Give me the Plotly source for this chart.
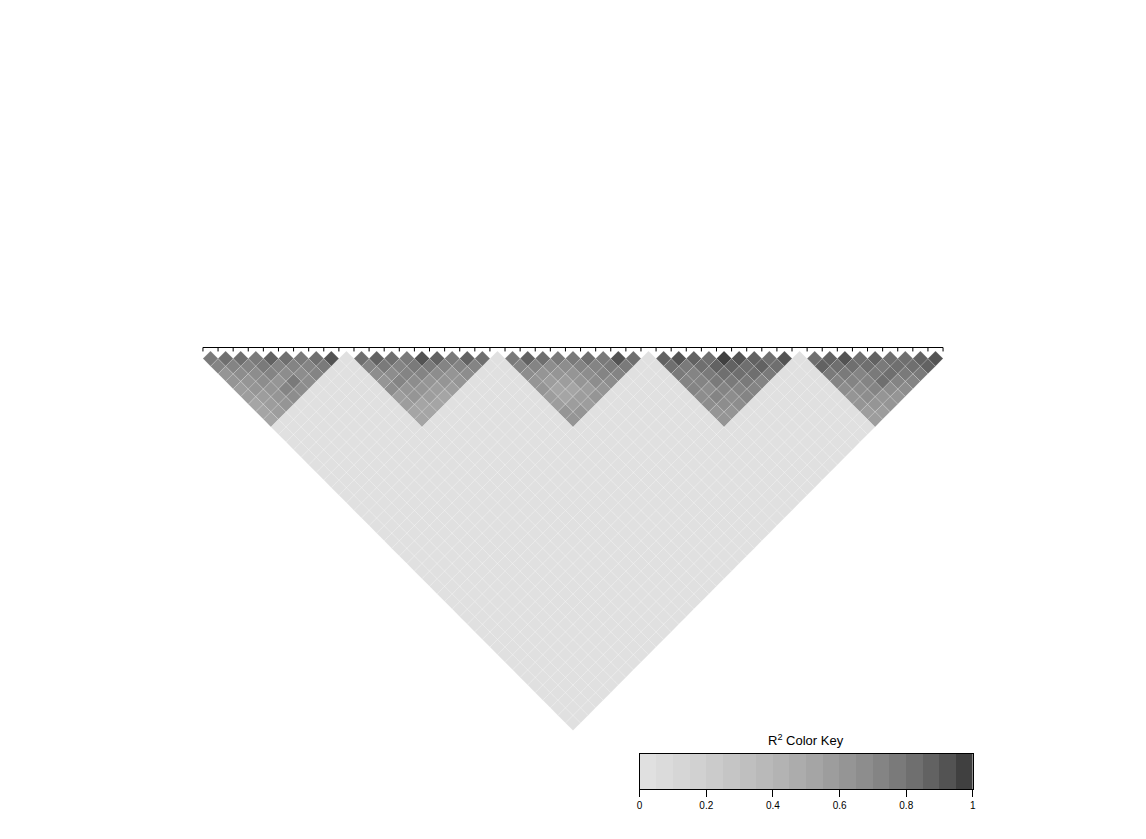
import plotly.graph_objects as go

# ---------------- data ----------------
N_MARKERS = 50
BLOCK_SIZE = 10
BACKGROUND_R2 = 0.02  # LD between blocks

# R^2 within each block, listed by marker distance d = 1..9 (row d has 10-d values)
block1 = [
    [0.78, 0.84, 0.82, 0.78, 0.86, 0.80, 0.78, 0.80, 0.93],
    [0.70, 0.72, 0.72, 0.76, 0.74, 0.70, 0.72, 0.78],
    [0.64, 0.66, 0.68, 0.70, 0.68, 0.66, 0.74],
    [0.60, 0.62, 0.66, 0.64, 0.77, 0.68],
    [0.58, 0.60, 0.62, 0.72, 0.66],
    [0.56, 0.58, 0.64, 0.66],
    [0.54, 0.56, 0.60],
    [0.52, 0.56],
    [0.52],
]
block2 = [
    [0.80, 0.88, 0.84, 0.76, 0.90, 0.88, 0.78, 0.86, 0.82],
    [0.74, 0.76, 0.70, 0.76, 0.78, 0.72, 0.70, 0.72],
    [0.68, 0.66, 0.72, 0.70, 0.66, 0.62, 0.68],
    [0.64, 0.70, 0.66, 0.62, 0.60, 0.62],
    [0.66, 0.62, 0.60, 0.58, 0.56],
    [0.58, 0.60, 0.56, 0.54],
    [0.56, 0.54, 0.52],
    [0.52, 0.52],
    [0.50],
]
block3 = [
    [0.78, 0.86, 0.80, 0.76, 0.78, 0.84, 0.76, 0.91, 0.82],
    [0.72, 0.74, 0.68, 0.66, 0.72, 0.74, 0.76, 0.78],
    [0.68, 0.64, 0.62, 0.64, 0.68, 0.72, 0.70],
    [0.62, 0.58, 0.56, 0.60, 0.66, 0.68],
    [0.60, 0.54, 0.54, 0.58, 0.64],
    [0.58, 0.52, 0.56, 0.60],
    [0.56, 0.56, 0.58],
    [0.60, 0.60],
    [0.63],
]
block4 = [
    [0.88, 0.91, 0.88, 0.84, 0.97, 0.92, 0.86, 0.80, 0.92],
    [0.82, 0.78, 0.80, 0.86, 0.88, 0.84, 0.86, 0.82],
    [0.76, 0.74, 0.78, 0.80, 0.84, 0.80, 0.76],
    [0.72, 0.70, 0.76, 0.78, 0.76, 0.74],
    [0.70, 0.68, 0.72, 0.74, 0.70],
    [0.68, 0.70, 0.68, 0.72],
    [0.66, 0.68, 0.66],
    [0.64, 0.64],
    [0.62],
]
block5 = [
    [0.82, 0.88, 0.93, 0.84, 0.88, 0.82, 0.84, 0.88, 0.93],
    [0.86, 0.80, 0.84, 0.80, 0.78, 0.82, 0.84, 0.86],
    [0.76, 0.78, 0.74, 0.76, 0.80, 0.76, 0.78],
    [0.72, 0.70, 0.72, 0.84, 0.74, 0.72],
    [0.68, 0.66, 0.70, 0.68, 0.68],
    [0.64, 0.66, 0.64, 0.62],
    [0.62, 0.60, 0.62],
    [0.58, 0.58],
    [0.56],
]
blocks = [block1, block2, block3, block4, block5]

key_ticks = [0, 0.2, 0.4, 0.6, 0.8, 1]
key_ticktext = ["0", "0.2", "0.4", "0.6", "0.8", "1"]
N_COLORS = 20

# ---------------- colours: grey ramp (gamma 2.2), dark = high LD ----------------
g0, g1 = 0.25 ** 2.2, 0.88 ** 2.2
levels = [(g0 + (g1 - g0) * k / (N_COLORS - 1)) ** (1 / 2.2) for k in range(N_COLORS)]
greys = [round(l * 255) for l in levels][::-1]  # index 0 -> light (R2 = 0)
colors = [f"rgb({g},{g},{g})" for g in greys]

# ---------------- build R2 matrix ----------------
r2 = [[None] * N_MARKERS for _ in range(N_MARKERS)]
for i in range(N_MARKERS):
    for j in range(i + 1, N_MARKERS):
        r2[i][j] = BACKGROUND_R2
for b, blk in enumerate(blocks):
    off = b * BLOCK_SIZE
    for d, row in enumerate(blk, start=1):
        for k, val in enumerate(row):
            r2[off + k][off + k + d] = val

def color_bin(v):
    return min(int(v * N_COLORS), N_COLORS - 1)

# polygons grouped by colour bin (rotated LD matrix)
polys = {k: ([], []) for k in range(N_COLORS)}
for i in range(N_MARKERS):
    for j in range(i + 1, N_MARKERS):
        k = color_bin(r2[i][j])
        c = (i + j) / 2
        d = j - i
        xs = [c, c + 0.5, c, c - 0.5, c, None]
        ys = [(d - 1) / 2, d / 2, (d + 1) / 2, d / 2, (d - 1) / 2, None]
        polys[k][0].extend(xs)
        polys[k][1].extend(ys)

fig = go.Figure()
for k in range(N_COLORS):
    xs, ys = polys[k]
    if not xs:
        continue
    fig.add_trace(go.Scatter(
        x=xs, y=ys, mode="lines", fill="toself", fillcolor=colors[k],
        line=dict(color="rgba(255,255,255,0.35)", width=0.5),
        hoverinfo="skip", showlegend=False,
    ))

# marker axis (genomic position line + ticks) above the triangle
TICK_Y0, TICK_Y1 = -0.23, 0.03
ax_x = [0, N_MARKERS - 1, None]
ax_y = [TICK_Y0, TICK_Y0, None]
for m in range(N_MARKERS):
    ax_x += [m, m, None]
    ax_y += [TICK_Y0, TICK_Y1, None]
fig.add_trace(go.Scatter(x=ax_x, y=ax_y, mode="lines",
                         line=dict(color="black", width=1),
                         hoverinfo="skip", showlegend=False))

# colour key
key_x = [(k + 0.5) / N_COLORS for k in range(N_COLORS)]
cs = []
for k in range(N_COLORS):
    cs.append([k / N_COLORS, colors[k]])
    cs.append([(k + 1) / N_COLORS, colors[k]])
fig.add_trace(go.Heatmap(
    x=key_x, y=[0], z=[list(range(N_COLORS))], zmin=-0.5, zmax=N_COLORS - 0.5,
    colorscale=cs, showscale=False, xaxis="x2", yaxis="y2", hoverinfo="skip",
))

# ---------------- layout ----------------
W, H = 1146, 839
X0, Y0, S = 201.0, 351.0, 744.0 / (N_MARKERS - 1)

fig.update_layout(
    width=W, height=H, margin=dict(l=0, r=0, t=0, b=0),
    paper_bgcolor="white", plot_bgcolor="white",
    font=dict(family="Liberation Sans, Arial, sans-serif", color="black"),
    xaxis=dict(range=[-X0 / S, (W - X0) / S], visible=False, domain=[0, 1]),
    yaxis=dict(range=[(H - Y0) / S, -Y0 / S], visible=False, domain=[0, 1]),
    xaxis2=dict(domain=[640 / W, 975 / W], anchor="y2", range=[0, 1],
                tickvals=key_ticks, ticktext=key_ticktext, ticks="outside",
                ticklen=7, tickcolor="black", tickwidth=1,
                showline=True, linecolor="black", linewidth=1, mirror=True,
                showgrid=False, zeroline=False, tickfont=dict(size=10)),
    yaxis2=dict(domain=[1 - 789 / H, 1 - 754 / H], anchor="x2", range=[-0.5, 0.5],
                showticklabels=False, ticks="", showline=True, linecolor="black",
                linewidth=1, mirror=True, showgrid=False, zeroline=False),
    annotations=[dict(text="R<sup>2</sup> Color Key", x=807.5 / W, y=1 - 740 / H,
                      xref="paper", yref="paper", showarrow=False,
                      font=dict(size=13), xanchor="center", yanchor="middle")],
)

fig.write_html("out.html")
